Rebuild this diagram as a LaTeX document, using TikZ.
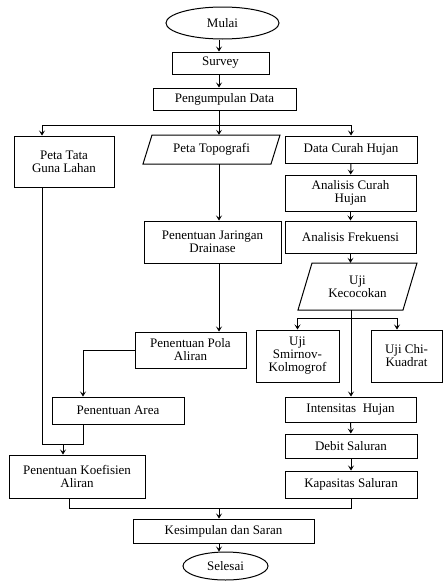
\documentclass[tikz,border=0pt]{standalone}
\usepackage{fontspec}
\setmainfont{Liberation Serif}
\usetikzlibrary{arrows.meta,shapes.geometric}
\begin{document}
\begin{tikzpicture}[x=1pt,y=-1pt,
  every node/.style={font=\rmfamily\fontsize{13}{13}\selectfont},
  box/.style={draw, line width=1pt, align=center, inner sep=1pt, rectangle},
  txt/.style={align=center, inner sep=0pt, rectangle},
  term/.style={draw, line width=1pt, ellipse, inner sep=0pt},
  ln/.style={line width=1pt},
  arr/.style={line width=1pt, -{Stealth[length=5pt,width=6pt,inset=2.2pt]}}]
\useasboundingbox (0,0) rectangle (443,581);
% nodes
\node[term, minimum width=113, minimum height=32] (mulai) at (222.5,23) {Mulai};
\node[box, minimum width=97, minimum height=22] (survey) at (220.5,63) {Survey};
\node[box, minimum width=143, minimum height=22] (peng) at (224.5,99) {Pengumpulan Data};
\node[box, minimum width=100, minimum height=51] (guna) at (64,161.5) {Peta Tata\\Guna Lahan};
\draw[ln] (152,135) -- (280,135) -- (271,164) -- (143,164) -- cycle;
\node[txt, minimum height=29] (topo) at (211.5,149.5) {Peta Topografi};
\node[box, minimum width=132, minimum height=27] (data) at (351,149.5) {Data Curah Hujan};
\node[box, minimum width=131, minimum height=36] (anal) at (350.5,193) {Analisis Curah\\Hujan};
\node[box, minimum width=131, minimum height=32] (frek) at (350.5,237) {Analisis Frekuensi};
\draw[ln] (312,263) -- (417,263) -- (403,310) -- (298,310) -- cycle;
\node[txt, minimum height=47] (uji) at (357.5,286.5) {Uji\\Kecocokan};
\node[box, minimum width=137, minimum height=42] (drain) at (212.5,242) {Penentuan Jaringan\\Drainase};
\node[box, minimum width=111, minimum height=36] (pola) at (190.5,350) {Penentuan Pola\\Aliran};
\node[box, minimum width=83, minimum height=52] (smir) at (297.5,356) {Uji\\Smirnov-\\Kolmogrof};
\node[box, minimum width=71, minimum height=52] (chi) at (406.5,356) {Uji Chi-\\Kuadrat};
\node[box, minimum width=132, minimum height=27] (area) at (118,410.5) {Penentuan Area};
\node[box, minimum width=131, minimum height=25] (inten) at (350.5,409.5) {Intensitas~~Hujan};
\node[box, minimum width=132, minimum height=24] (debit) at (351,446) {Debit Saluran};
\node[box, minimum width=132, minimum height=27] (kapas) at (351,484.5) {Kapasitas Saluran};
\node[box, minimum width=136, minimum height=43] (koef) at (77,476.5) {Penentuan Koefisien\\Aliran};
\node[box, minimum width=181, minimum height=24] (kes) at (223.5,531) {Kesimpulan dan Saran};
\node[term, minimum width=85, minimum height=28] (selesai) at (225.5,566) {Selesai};
% helper coordinates
\coordinate (cx) at (219,0);
\coordinate (gx) at (42,0);
\coordinate (ax) at (83,0);
\coordinate (rx) at (351,0);
\coordinate (cr) at (397,0);
\coordinate (kx) at (69,0);
\coordinate (s1) at (219,125);
\coordinate (s2) at (351,318);
\coordinate (s3) at (219,508);
\coordinate (m1) at (63,444);
% connectors
\draw[arr] (mulai.south -| cx) -- (survey.north -| cx);
\draw[arr] (survey.south -| cx) -- (peng.north -| cx);
\draw[ln] (peng.south -| cx) -- (s1);
\draw[arr] (s1) -| (gx |- guna.north);
\draw[arr] (s1) -| (data.north);
\draw[arr] (s1) -- (cx |- topo.north);
\draw[arr] (cx |- topo.south) -- (cx |- drain.north);
\draw[arr] (cx |- drain.south) -- (cx |- pola.north);
\draw[arr] (pola.west) -| (ax |- area.north);
\draw[ln] (gx |- guna.south) |- (m1);
\draw[ln] (ax |- area.south) |- (m1);
\draw[arr] (m1) -- (m1 |- koef.north);
\draw[arr] (data) -- (anal);
\draw[arr] (anal) -- (frek);
\draw[arr] (frek.south) -- (frek.south |- uji.north);
\draw[ln] (rx |- uji.south) -- (s2);
\draw[arr] (s2) -| (smir.north);
\draw[arr] (s2) -| (cr |- chi.north);
\draw[arr] (s2) -- (rx |- inten.north);
\draw[arr] (inten) -- (debit);
\draw[arr] (debit) -- (kapas);
\draw[ln] (kx |- koef.south) |- (s3);
\draw[ln] (kapas.south) |- (s3);
\draw[arr] (s3) -- (cx |- kes.north);
\draw[arr] (cx |- kes.south) -- (cx |- selesai.north);
\end{tikzpicture}
\end{document}
